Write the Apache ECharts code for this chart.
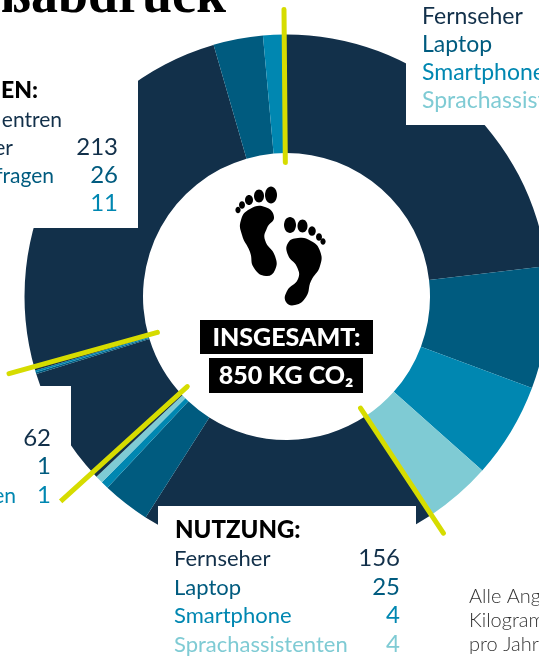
<!DOCTYPE html>
<html>
<head>
    <meta charset="UTF-8">
    <title>CO2-Fussabdruck</title>
    <script src="https://cdn.jsdelivr.net/npm/echarts@6/dist/echarts.min.js"></script>
    <style>
        html, body { margin: 0; padding: 0; background: #fff; }
        #main { width: 539px; height: 658px; }
    </style>
</head>
<body>
<div id="main"></div>
<script>
    var devices = ['Fernseher', 'Laptop', 'Smartphone', 'Sprachassistenten'];
    // Werte im Uhrzeigersinn ab 12 Uhr, kg CO2 pro Jahr
    var herstellung = [198, 64, 50, 35];   // Beschriftung abgeschnitten, aus den Winkeln geschaetzt
    var nutzung = [156, 25, 4, 4];
    var links = [62, 1, 1];
    var anwendungen = [213, 26, 11];
    var colors = ['#12304a', '#005b7f', '#0087b1', '#7fcbd4'];
    var yellow = '#d6dc00';

    var groups = [herstellung, nutzung, links, anwendungen];
    var total = 850;
    var center = [286.5, 296.5];
    var startAngle = 90.5;

    var pieData = [];
    var bounds = [0];
    var sum = 0;
    groups.forEach(function (g) {
        g.forEach(function (v, i) {
            pieData.push({ value: v, itemStyle: { color: colors[i] } });
            sum += v;
        });
        bounds.push(sum);
    });

    // Trennlinien: Aussenradius je Gruppe, die Linien liegen knapp neben der Grenze
    var lineInner = 134;
    var lineOuter = [287, 284, 305, 288];
    var lineGap = [0, 0, 3, 2];
    var lineAt = [0, bounds[1], bounds[2], bounds[3]];
    var lineSeries = lineAt.map(function (kg, i) {
        return {
            type: 'line',
            coordinateSystem: 'polar',
            z: 20,
            symbol: 'none',
            silent: true,
            lineStyle: { color: yellow, width: 5, cap: 'round' },
            data: [[lineInner, kg + lineGap[i]], [lineOuter[i], kg + lineGap[i]]]
        };
    });

    function txt(text, x, y, color, size, align, weight, family) {
        return {
            type: 'text', z: 10, silent: true, x: x, y: y,
            style: {
                text: text, fill: color, align: align || 'left', verticalAlign: 'middle',
                font: (weight || 400) + ' ' + size + 'px ' + (family || 'Lato')
            }
        };
    }
    function box(x, y, w, h, color, z) {
        return { type: 'rect', z: z || 5, silent: true, shape: { x: x, y: y, width: w, height: h }, style: { fill: color } };
    }
    function foot(points) {
        return { type: 'polygon', z: 10, silent: true, shape: { points: points, smooth: 0.5 }, style: { fill: '#000' } };
    }
    function toe(cx, cy, rx, ry) {
        return { type: 'ellipse', z: 10, silent: true, shape: { cx: cx, cy: cy, rx: rx, ry: ry }, style: { fill: '#000' } };
    }

    var els = [
        box(0, 0, 138, 228, '#fff'),
        box(406, 0, 133, 125, '#fff'),
        box(0, 386, 71, 272, '#fff'),
        box(158, 506, 258, 152, '#fff'),

        txt('Fußabdruck', 226, -2, '#000', 54, 'right', 700, '"Liberation Serif"'),

        txt('EN:', 38, 91, '#000', 23, 'right', 900),
        txt('entren', 62, 120, colors[0], 21, 'right'),
        txt('er', 13, 148, colors[0], 21, 'right'),
        txt('fragen', 54, 176, colors[1], 21, 'right'),
        txt(String(anwendungen[0]), 118, 147, colors[0], 24, 'right'),
        txt(String(anwendungen[1]), 118, 175, colors[1], 24, 'right'),
        txt(String(anwendungen[2]), 118, 203, colors[2], 24, 'right'),

        txt(String(links[0]), 51, 438, colors[0], 24, 'right'),
        txt(String(links[1]), 51, 466, colors[1], 24, 'right'),
        txt(String(links[2]), 51, 495, colors[2], 24, 'right'),
        txt('en', 16, 496, colors[2], 21, 'right'),

        txt(devices[0], 422, 17, colors[0], 23),
        txt(devices[1], 422, 45, colors[1], 23),
        txt(devices[2], 422, 73, colors[2], 23),
        txt(devices[3], 422, 101, colors[3], 23),

        txt('NUTZUNG:', 175, 530, '#000', 24, 'left', 900),
        txt(devices[0], 174, 559, colors[0], 22),
        txt(devices[1], 174, 588, colors[1], 22),
        txt(devices[2], 174, 616, colors[2], 22),
        txt(devices[3], 174, 645, colors[3], 22),
        txt(String(nutzung[0]), 400, 558, colors[0], 24, 'right'),
        txt(String(nutzung[1]), 400, 587, colors[1], 24, 'right'),
        txt(String(nutzung[2]), 400, 615, colors[2], 24, 'right'),
        txt(String(nutzung[3]), 400, 644, colors[3], 24, 'right'),

        txt('Alle Angaben in', 469, 597, '#333', 20, 'left', 300),
        txt('Kilogramm CO₂', 469, 621, '#333', 20, 'left', 300),
        txt('pro Jahr', 469, 645, '#333', 20, 'left', 300),

        box(200, 320, 173, 34, '#000', 8),
        box(209, 358, 154, 35, '#000', 8),
        txt('INSGESAMT:', 286.5, 338, '#fff', 25, 'center', 900),
        txt('850 KG CO₂', 286, 376, '#fff', 25, 'center', 900),

        foot([[265, 207], [250, 209], [241, 220], [242, 235], [250, 252], [254, 268], [266, 276], [275, 270], [275, 256], [265, 240], [267, 228], [274, 217]]),
        foot([[298, 238], [288, 243], [288, 255], [297, 267], [298, 279], [287, 291], [286, 302], [295, 305], [306, 297], [311, 281], [320, 266], [320, 251], [311, 241]]),
        toe(271, 195, 6, 8.5), toe(259, 196, 5, 6.5), toe(249, 200, 4, 5), toe(242, 205, 3, 3.8), toe(238, 210, 2.6, 3.2),
        toe(290, 225, 6, 8), toe(302.5, 226, 5, 6.5), toe(312, 231, 3.8, 4.8), toe(319, 237, 3, 3.8), toe(323, 241.5, 2.6, 3.2)
    ];

    var chart = echarts.init(document.getElementById('main'));
    chart.setOption({
        animation: false,
        polar: { center: center, radius: [0, 305] },
        angleAxis: { type: 'value', min: 0, max: total, startAngle: startAngle, clockwise: true, show: false },
        radiusAxis: { type: 'value', min: 0, max: 305, show: false },
        graphic: { elements: els },
        series: [{
            type: 'pie',
            z: 1,
            center: center,
            radius: [143.5, 262],
            startAngle: startAngle,
            clockwise: true,
            silent: true,
            label: { show: false },
            labelLine: { show: false },
            data: pieData
        }].concat(lineSeries)
    });
</script>
</body>
</html>
